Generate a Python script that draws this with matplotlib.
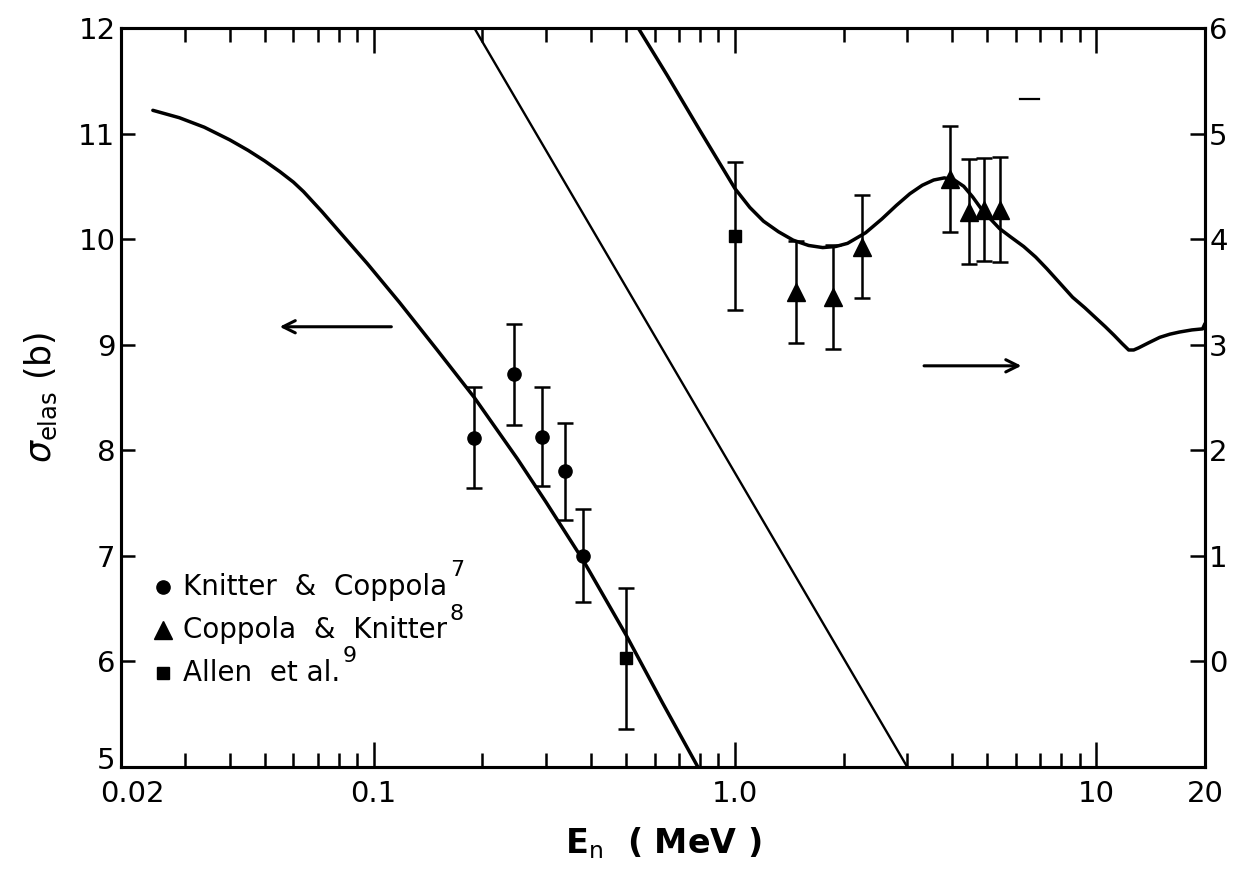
import matplotlib
matplotlib.use("Agg")
import matplotlib.pyplot as plt
from matplotlib.ticker import FixedLocator, LogLocator, NullFormatter
from matplotlib.transforms import ScaledTranslation

plt.rcParams["font.family"] = ["DejaVu Sans"]
plt.rcParams["mathtext.fontset"] = "dejavusans"

# Knitter & Coppola (left axis, barns)
kc_E = [0.19, 0.245, 0.293, 0.338, 0.38]
kc_sig = [8.12, 8.72, 8.13, 7.80, 7.00]
kc_err = [0.48, 0.48, 0.47, 0.46, 0.44]

# Allen et al. (left axis, barns)
al_E = [0.5, 1.0]
al_sig = [6.03, 10.03]
al_err = [0.67, 0.70]

# Coppola & Knitter (right axis, barns)
ck_E = [1.48, 1.87, 2.25, 3.95, 4.45, 4.9, 5.4]
ck_sig = [3.50, 3.45, 3.93, 4.57, 4.26, 4.28, 4.28]
ck_err = [0.48, 0.49, 0.49, 0.50, 0.50, 0.49, 0.50]

# calculated curve, low-energy part (left axis)
low_E = [0.0245, 0.029, 0.034, 0.040, 0.045, 0.050, 0.055, 0.060, 0.064,
         0.072, 0.08, 0.096, 0.118, 0.15, 0.19, 0.25, 0.30, 0.38, 0.5,
         0.63, 0.79]
low_sig = [11.22, 11.15, 11.06, 10.94, 10.84, 10.74, 10.64, 10.54, 10.45,
           10.26, 10.08, 9.77, 9.40, 8.95, 8.50, 7.92, 7.51, 6.96, 6.25,
           5.61, 5.0]

# straight guide line across the break between the two scales
mid_E = [0.19, 3.0]
mid_sig = [12.0, 5.0]

# calculated curve, high-energy part (right axis)
high_E = [0.54, 0.65, 0.8, 1.0, 1.1, 1.2, 1.32, 1.45, 1.6, 1.75, 1.9, 2.05,
          2.3, 2.55, 2.8, 3.05, 3.3, 3.55, 3.8, 4.05, 4.3, 4.55, 4.8, 5.1,
          5.4, 5.8, 6.3, 6.8, 7.3, 7.9, 8.6, 9.3, 10.0, 10.6, 11.2, 11.8,
          12.3, 12.7, 13.1, 14.0, 15.0, 16.0, 17.0, 18.4, 19.7, 20.0]
high_sig = [6.0, 5.55, 5.03, 4.48, 4.30, 4.17, 4.07, 3.99, 3.94, 3.92,
            3.93, 3.96, 4.06, 4.19, 4.32, 4.43, 4.51, 4.56, 4.58, 4.56,
            4.50, 4.40, 4.29, 4.19, 4.10, 4.02, 3.93, 3.83, 3.72, 3.59,
            3.45, 3.35, 3.25, 3.17, 3.09, 3.01, 2.95, 2.95, 2.97, 3.02,
            3.07, 3.10, 3.12, 3.14, 3.15, 3.20]

x_ticks = [0.02, 0.1, 1.0, 10, 20]
x_labels = ["0.02", "0.1", "1.0", "10", "20"]
left_ticks = [5, 6, 7, 8, 9, 10, 11, 12]
right_ticks = [0, 1, 2, 3, 4, 5, 6]

fig = plt.figure(figsize=(12.36, 8.74), dpi=100)
ax = fig.add_axes([0.0979, 0.1224, 0.8770, 0.8456])
ax2 = ax.twinx()

ax.set_xscale("log")
ax.set_xlim(0.02, 20)
ax.set_ylim(5, 12)
ax2.set_ylim(-1, 6)

lw_spine = 2.2
for a in (ax, ax2):
    for s in a.spines.values():
        s.set_linewidth(lw_spine)

# x axis ticks: long ones at decades, short ones in between, on top and bottom
ax.xaxis.set_major_locator(FixedLocator(x_ticks))
ax.set_xticklabels(x_labels)
ax.xaxis.set_minor_locator(LogLocator(base=10, subs=range(2, 10)))
ax.xaxis.set_minor_formatter(NullFormatter())
ax.tick_params(axis="x", which="major", direction="in", length=18, width=1.8,
               top=True, labelsize=21, pad=9)
ax.tick_params(axis="x", which="minor", direction="in", length=10, width=1.8,
               top=True)

ax.set_yticks(left_ticks)
ax.set_yticklabels([str(t) for t in left_ticks])
ax.tick_params(axis="y", which="major", direction="in", length=10, width=1.8,
               labelsize=21, pad=4)
ax.yaxis.set_minor_locator(FixedLocator([]))

ax2.set_yticks(right_ticks)
ax2.set_yticklabels([str(t) for t in right_ticks])
ax2.tick_params(axis="y", which="major", direction="in", length=11, width=1.8,
                labelsize=21, pad=3)

# keep the corner labels "0.02" and "5" apart
px = 1.0 / fig.dpi
lab = ax.get_xticklabels()[0]
lab.set_transform(lab.get_transform() + ScaledTranslation(11 * px, 0, fig.dpi_scale_trans))
lab = ax.get_yticklabels()[0]
lab.set_transform(lab.get_transform() + ScaledTranslation(0, 9 * px, fig.dpi_scale_trans))

# curves
ax.plot(low_E, low_sig, color="black", lw=2.5, solid_capstyle="round",
        solid_joinstyle="round")
ax.plot(mid_E, mid_sig, color="black", lw=1.7)
ax2.plot(high_E, high_sig, color="black", lw=2.5, solid_capstyle="round",
         solid_joinstyle="round")

# measurements
eb = dict(color="black", ecolor="black", elinewidth=1.8, capsize=5.5,
          capthick=1.8, linestyle="none")
ax.errorbar(kc_E, kc_sig, yerr=kc_err, marker="o", markersize=9.5, **eb)
ax.errorbar(al_E, al_sig, yerr=al_err, marker="s", markersize=8.6, **eb)
ax2.errorbar(ck_E, ck_sig, yerr=ck_err, marker="^", markersize=13, **eb)

# arrows pointing to the axis each curve belongs to
arrow = dict(arrowstyle="->", lw=2.2, color="black", mutation_scale=22)
ax.annotate("", xy=(0.054, 9.17), xytext=(0.114, 9.17), arrowprops=arrow)
ax2.annotate("", xy=(6.32, 2.8), xytext=(3.28, 2.8), arrowprops=arrow)

# short dash near the top right
ax.plot([6.17, 6.96], [11.33, 11.33], color="black", lw=1.6)

# key
key_x_mark, key_x_text = 0.0387, 0.057
key_y = [0.2436, 0.185, 0.127]
key_marks = ["o", "^", "s"]
key_sizes = [9.5, 13, 8.6]
key_text = ["Knitter  &  Coppola", "Coppola  &  Knitter", "Allen  et al."]
key_sup = ["7", "8", "9"]
for yk, m, ms, t, sup in zip(key_y, key_marks, key_sizes, key_text, key_sup):
    ax.plot([key_x_mark], [yk], marker=m, markersize=ms, color="black",
            transform=ax.transAxes, clip_on=False)
    txt = ax.text(key_x_text, yk, t, transform=ax.transAxes, fontsize=20,
                  va="center", ha="left")
    ax.annotate(sup, xy=(1, 1), xycoords=txt, xytext=(2, 2),
                textcoords="offset points", fontsize=16, va="center",
                ha="left")

ax.set_xlabel(r"E$_{\rm n}$  ( MeV )", fontsize=24, fontweight="bold",
              labelpad=13)
ax.set_ylabel(r"$\sigma_{\rm elas}$ (b)", fontsize=25, labelpad=14)

fig.savefig("out.png", dpi=100)
